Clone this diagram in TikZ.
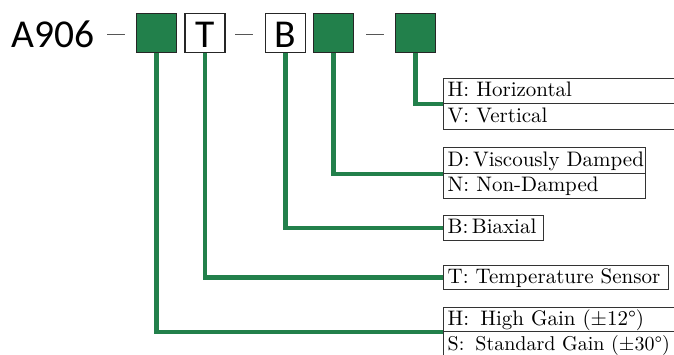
\documentclass[tikz,border=0pt]{standalone}
\usepackage{fontspec}
\setmainfont{lmroman10-regular.otf}
\newfontfamily\calib{Carlito}
\definecolor{codegreen}{RGB}{34,128,75}
\begin{document}
\begin{tikzpicture}[x=1pt,y=-1pt,
  codebox/.style={draw=black!85, line width=1.2pt, minimum width=40pt, minimum height=39pt, inner sep=0pt},
  greenbox/.style={codebox, fill=codegreen},
  letterbox/.style={codebox, fill=white},
  bigtext/.style={font=\calib\fontsize{39.5}{42}\selectfont, inner sep=0pt},
  dashtext/.style={font=\fontsize{36}{40}\selectfont, inner sep=0pt, text=black!85, anchor=base},
  conn/.style={draw=codegreen, line width=4.5pt, line join=miter},
  frame/.style={draw=black!80, line width=1pt, anchor=north west, inner sep=0pt},
  rowtext/.style={anchor=west, inner xsep=4.5pt, inner ysep=0pt, text height=15pt, text depth=4pt, font=\fontsize{21}{25}\selectfont}
]
\useasboundingbox (0,0) rectangle (674,354);
\clip (0,0) rectangle (674,354);

% model code
\node[bigtext, anchor=base west] (model) at (11,47) {A906};
\node[dashtext] (d1) at (116,44) {–};
\node[greenbox] (c1) at (156.5,33) {};
\node[letterbox] (c2) at (205,33) {};
\node[bigtext, anchor=base] (c2t) at (205,47) {T};
\node[dashtext] (d2) at (244.5,44) {–};
\node[letterbox] (c3) at (285.5,33) {};
\node[bigtext, anchor=base] (c3t) at (285.5,47) {B};
\node[greenbox] (c4) at (333.5,33) {};
\node[dashtext] (d3) at (375.5,44) {–};
\node[greenbox] (c5) at (415.5,33) {};

% option boxes
\node[frame, minimum width=240pt, minimum height=25pt] (hvH) at (443,78) {};
\node[frame, minimum width=240pt, minimum height=26pt] (hvV) at (443,103) {};
\node[rowtext] (hvHt) at (hvH.west) {H: Horizontal};
\node[rowtext] (hvVt) at (hvV.west) {V: Vertical};

\node[frame, minimum width=202pt, minimum height=26pt] (dnD) at (443,147) {};
\node[frame, minimum width=202pt, minimum height=25pt] (dnN) at (443,173) {};
\node[rowtext] (dnDt) at (dnD.west) {D:\,Viscously Damped};
\node[rowtext] (dnNt) at (dnN.west) {N: Non-Damped};

\node[frame, minimum width=100pt, minimum height=25pt] (bx) at (443,215) {};
\node[rowtext] (bxt) at (bx.west) {B:\,Biaxial};

\node[frame, minimum width=225pt, minimum height=24pt] (tx) at (443,265) {};
\node[rowtext] (txt) at (tx.west) {T: Temperature Sensor};

\node[frame, minimum width=240pt, minimum height=24pt] (hsH) at (443,307) {};
\node[frame, minimum width=240pt, minimum height=26pt] (hsS) at (443,331) {};
\node[rowtext] (hsHt) at (hsH.west) {H:\hspace{11pt}High Gain (±12°)};
\node[rowtext, font=\fontsize{20}{24}\selectfont] (hsSt) at (hsS.west) {S:\hspace{11pt}Standard Gain (±30°)};

% connectors
\draw[conn] (c5.south) |- (hvH.south west);
\draw[conn] (c4.south) |- (dnD.south west);
\draw[conn] (c3.south) |- (bx.west);
\draw[conn] (c2.south) |- (tx.west);
\draw[conn] (c1.south) |- (hsH.south west);
\end{tikzpicture}
\end{document}
